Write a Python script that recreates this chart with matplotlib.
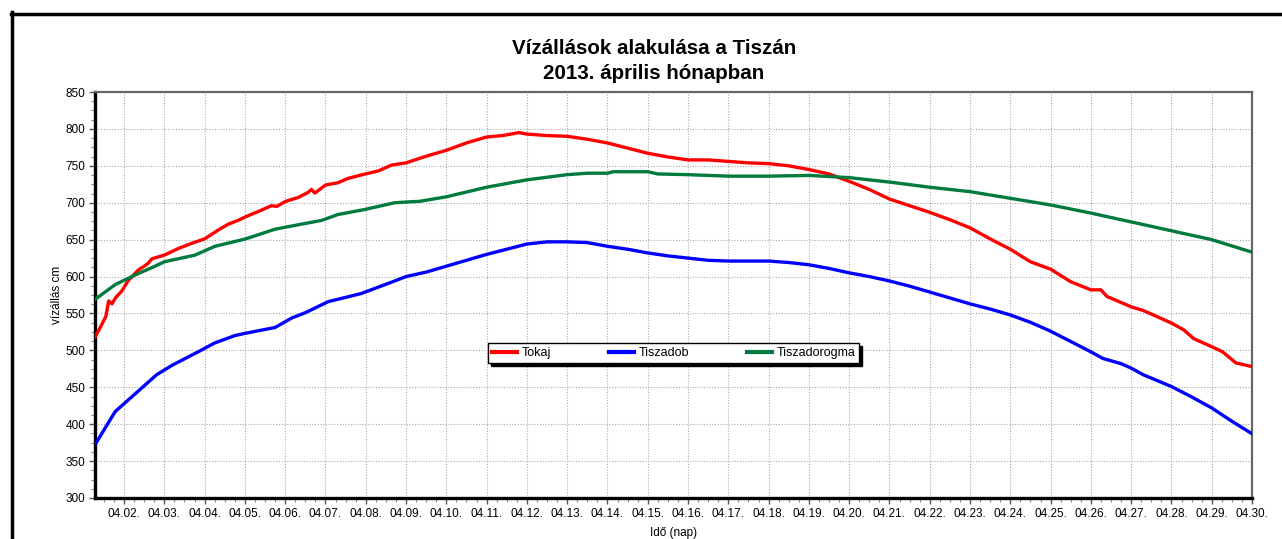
import matplotlib
matplotlib.use("Agg")
import matplotlib.pyplot as plt
from matplotlib.lines import Line2D
from matplotlib.ticker import MultipleLocator, FixedLocator

plt.rcParams['font.family'] = ['Liberation Sans', 'DejaVu Sans']

# ---- data (x = day of April 2013) ----
tokaj_x = [1.28, 1.40, 1.55, 1.62, 1.70, 1.80, 1.94, 2.11, 2.36, 2.50, 2.60, 2.69, 3.0, 3.35, 3.68,
           4.0, 4.34, 4.59, 4.83, 5.02, 5.33, 5.66, 5.79, 6.02, 6.32, 6.57, 6.65, 6.74, 7.0, 7.31,
           7.56, 7.99, 8.31, 8.64, 9.0, 9.5, 10.0, 10.5, 11.0, 11.4, 11.8, 12.0, 12.5, 13.0, 13.5,
           14.0, 14.5, 15.0, 15.5, 16.0, 16.5, 17.0, 17.5, 18.0, 18.5, 19.0, 19.5, 20.0, 20.5, 21.0,
           21.5, 22.0, 22.5, 23.0, 23.5, 24.0, 24.5, 25.0, 25.5, 26.0, 26.25, 26.4, 27.0, 27.3,
           27.55, 28.0, 28.3, 28.55, 29.0, 29.27, 29.6, 30.0]
tokaj_y = [518, 530, 546, 567, 563, 572, 580, 595, 609, 614, 618, 624, 629, 638, 645,
           651, 663, 671, 676, 681, 688, 696, 695, 702, 707, 714, 718, 713, 724, 727,
           733, 739, 743, 751, 754, 763, 771, 781, 789, 791, 795, 793, 791, 790, 786,
           781, 774, 767, 762, 758, 758, 756, 754, 753, 750, 745, 739, 729, 718, 705,
           696, 687, 677, 666, 651, 637, 620, 610, 593, 582, 582, 573, 559, 554,
           548, 537, 528, 516, 505, 498, 483, 478]

tiszadob_x = [1.30, 1.78, 2.81, 3.2, 3.84, 4.25, 4.75, 5.0, 5.75, 6.17, 6.5, 7.07, 7.89, 8.72,
              9.0, 9.5, 10.0, 10.5, 11.0, 11.5, 12.0, 12.5, 13.0, 13.5, 14.0, 14.5, 15.0, 15.5,
              16.0, 16.5, 17.0, 17.5, 18.0, 18.5, 19.0, 19.5, 20.0, 20.5, 21.0, 21.5, 22.0, 22.5,
              23.0, 23.5, 24.0, 24.5, 25.0, 25.5, 26.0, 26.3, 26.75, 27.0, 27.3, 28.0, 28.5, 29.0,
              29.5, 30.0]
tiszadob_y = [374, 417, 467, 480, 498, 510, 520, 523, 531, 544, 551, 566, 577, 594,
              600, 606, 614, 622, 630, 637, 644, 647, 647, 646, 641, 637, 632, 628,
              625, 622, 621, 621, 621, 619, 616, 611, 605, 600, 594, 587, 579, 571,
              563, 556, 548, 538, 526, 512, 498, 489, 482, 476, 467, 451, 437, 422,
              404, 387]

tiszadorogma_x = [1.28, 1.78, 2.27, 2.77, 3.0, 3.76, 4.26, 5.02, 5.74, 6.02, 6.9, 7.31, 7.99, 8.72,
                  9.35, 10.0, 11.0, 12.0, 13.0, 13.5, 14.0, 14.15, 15.0, 15.25, 16.0, 17.0, 18.0,
                  19.0, 20.0, 21.0, 22.0, 23.0, 24.0, 25.0, 26.0, 27.0, 28.0, 29.0, 30.0]
tiszadorogma_y = [569, 589, 602, 614, 620, 629, 641, 651, 664, 667, 676, 684, 691, 700,
                  702, 708, 721, 731, 738, 740, 740, 742, 742, 739, 738, 736, 736,
                  737, 734, 728, 721, 715, 706, 697, 686, 674, 662, 650, 633]

tick_days = list(range(2, 31))
tick_labels = [f"04.{d:02d}." for d in tick_days]

title = "Vízállások alakulása a Tiszán\n2013. április hónapban"
ylabel = "vízállás cm"
xlabel = "Idő (nap)"

# ---- figure ----
W, H = 1282, 539
fig = plt.figure(figsize=(W / 100, H / 100), dpi=100)
fig.patch.set_facecolor('white')

ax = fig.add_axes([95 / W, (H - 498) / H, (1252 - 95) / W, (498 - 92) / H])

ax.plot(tokaj_x, tokaj_y, color='#ff0000', lw=2.4, label='Tokaj', zorder=3)
ax.plot(tiszadob_x, tiszadob_y, color='#0000ff', lw=2.4, label='Tiszadob', zorder=3)
ax.plot(tiszadorogma_x, tiszadorogma_y, color='#007a3d', lw=2.4, label='Tiszadorogma', zorder=3)

ax.set_xlim(1.28, 30.0)
ax.set_ylim(300, 850)

ax.xaxis.set_major_locator(FixedLocator(tick_days))
ax.set_xticklabels(tick_labels)
ax.xaxis.set_minor_locator(MultipleLocator(0.25))
ax.yaxis.set_major_locator(MultipleLocator(50))
ax.yaxis.set_minor_locator(MultipleLocator(12.5))

ax.tick_params(axis='both', which='major', labelsize=8.5, length=4, width=1, color='#555555',
               direction='out', pad=3)
ax.tick_params(axis='both', which='minor', length=3, width=0.8, color='#888888', direction='out')

ax.grid(True, which='major', color='#aaaaaa', linestyle=(0, (1, 1.5)), linewidth=0.8, zorder=0)

for side in ['left', 'bottom']:
    ax.spines[side].set_color('black')
    ax.spines[side].set_linewidth(2.4)
for side in ['top', 'right']:
    ax.spines[side].set_color('#666666')
    ax.spines[side].set_linewidth(1.6)

ax.set_ylabel(ylabel, fontsize=8.5, labelpad=2)
ax.set_xlabel(xlabel, fontsize=8.5, labelpad=5)

fig.text(654 / W, 1 - 61 / H, title, ha='center', va='center', fontsize=14.8,
         fontweight='bold', linespacing=1.4)

leg = ax.legend(loc='center', bbox_to_anchor=(0.5, 0.357), ncol=3, fontsize=9,
                frameon=True, fancybox=False, shadow={'color': 'black', 'alpha': 1.0},
                edgecolor='black', handlelength=2.0, columnspacing=4.6,
                handletextpad=0.4, borderpad=0.3, borderaxespad=0)
leg.get_frame().set_linewidth(1.0)
for h in leg.legend_handles:
    h.set_linewidth(3)

# outer frame (left and top edges visible)
fig.add_artist(Line2D([11.5 / W, 11.5 / W], [0, 1 - 12 / H], transform=fig.transFigure,
                      color='black', lw=2.5))
fig.add_artist(Line2D([10.5 / W, 1], [1 - 13.5 / H, 1 - 13.5 / H], transform=fig.transFigure,
                      color='black', lw=2.5))

fig.savefig('out.png', dpi=100)
